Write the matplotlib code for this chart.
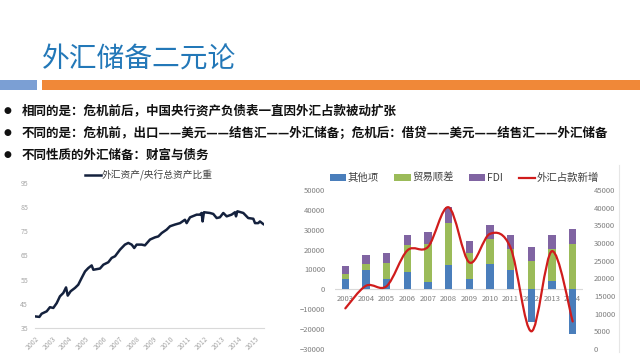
import matplotlib
matplotlib.use('Agg')
import matplotlib.pyplot as plt
from matplotlib.path import Path
from matplotlib.patches import PathPatch, Rectangle
from matplotlib.lines import Line2D
import numpy as np

plt.rcParams['font.family'] = ['Noto Sans CJK SC', 'DejaVu Sans']

# ---------------- data ----------------
title = '外汇储备二元论'
bullets = [
    '相同的是：危机前后，中国央行资产负债表一直因外汇占款被动扩张',
    '不同的是：危机前，出口——美元——结售汇——外汇储备；危机后：借贷——美元——结售汇——外汇储备',
    '不同性质的外汇储备：财富与债务',
]

ratio_label = '外汇资产/央行总资产比重'
ratio_x = [2002.00, 2002.26, 2002.39, 2002.69, 2002.88, 2003.08, 2003.28, 2003.47,
           2003.67, 2003.83, 2003.93, 2004.10, 2004.36, 2004.55, 2004.75, 2004.95,
           2005.14, 2005.34, 2005.44, 2005.83, 2006.03, 2006.32, 2006.52, 2006.72,
           2007.01, 2007.30, 2007.50, 2007.70, 2007.85, 2007.99, 2008.29, 2008.48,
           2008.78, 2009.07, 2009.27, 2009.47, 2009.76, 2009.96, 2010.25, 2010.55,
           2010.84, 2010.94, 2011.14, 2011.53, 2011.72, 2011.82, 2011.88, 2011.96,
           2012.31, 2012.51, 2012.71, 2012.90, 2013.10, 2013.30, 2013.59, 2013.79,
           2013.85, 2013.93, 2014.28, 2014.57, 2014.87, 2014.97, 2015.16, 2015.26,
           2015.46]
ratio_y = [39.8, 39.6, 40.9, 41.9, 43.6, 43.3, 45.3, 48.1,
           49.5, 51.8, 48.4, 50.2, 51.6, 52.9, 55.7, 58.4,
           59.8, 60.9, 59.1, 59.6, 61.2, 62.2, 64.0, 64.7,
           67.4, 69.5, 70.2, 69.5, 68.1, 69.5, 69.5, 69.2,
           71.6, 72.5, 72.9, 74.3, 75.7, 77.1, 77.8, 78.4,
           79.8, 78.4, 80.8, 81.9, 81.9, 82.6, 79.1, 82.9,
           82.6, 82.2, 80.5, 80.8, 82.6, 81.2, 81.9, 82.9,
           81.2, 83.3, 82.6, 80.5, 80.2, 78.4, 78.4, 79.1,
           78.0]
ratio_years = list(range(2002, 2016))
ratio_yticks = [35, 45, 55, 65, 75, 85, 95]

years = ['2003', '2004', '2005', '2006', '2007', '2008', '2009', '2010',
         '2011', '2012', '2013', '2014']
other = [5000, 10000, 5000, 8500, 3500, 12500, 5000, 13000, 10000, -16500, 4000, -22500]
trade = [2500, 3000, 8500, 14000, 19500, 21000, 13500, 12500, 10500, 14500, 16500, 23000]
fdi = [4200, 4500, 5000, 5000, 6000, 8000, 5800, 7000, 7000, 7000, 7000, 7500]
fx_new = [11500, 17900, 17800, 27900, 28900, 40100, 24500, 32600, 28600, 5000, 27700, 7800]
bar_labels = ['其他项', '贸易顺差', 'FDI', '外汇占款新增']
left_ticks = list(range(-30000, 50001, 10000))
right_ticks = list(range(0, 45001, 5000))

# ---------------- figure ----------------
W, H = 640, 360
fig = plt.figure(figsize=(6.4, 3.6), dpi=100)


def rect(l, t, r, b):
    return [l / W, 1 - b / H, (r - l) / W, (b - t) / H]


def fpos(x, y):
    return x / W, 1 - y / H


# header
fig.text(*fpos(42, 60), title, fontsize=20, color='#2378B8', va='center', ha='left')
fig.patches.append(Rectangle(fpos(0, 90), 37 / W, 10 / H, transform=fig.transFigure,
                             facecolor='#7B9FD4', edgecolor='none'))
fig.patches.append(Rectangle(fpos(42, 90), (640 - 42) / W, 10 / H, transform=fig.transFigure,
                             facecolor='#F08838', edgecolor='none'))
for i, (yy, txt) in enumerate(zip([111, 133, 155], bullets)):
    fig.text(*fpos(7, yy), '●', fontsize=6.5, color='#111111', va='center', ha='center',
             family=['DejaVu Sans'])
    fig.text(*fpos(22, yy), txt, fontsize=9, color='#111111', va='center', ha='left',
             fontweight='bold')

# ---------------- left chart ----------------
ax1 = fig.add_axes(rect(35, 183, 264, 328))
ax1.plot(ratio_x, ratio_y, color='#14213D', lw=1.8, label=ratio_label)
ax1.set_xlim(2002, 2015.5)
ax1.set_ylim(35, 95)
ax1.set_yticks(ratio_yticks)
ax1.set_xticks(ratio_years)
ax1.set_xticklabels([str(y) for y in ratio_years], rotation=45, ha='right',
                    rotation_mode='anchor')
for s in ['top', 'right', 'left']:
    ax1.spines[s].set_visible(False)
ax1.spines['bottom'].set_color('#D9D9D9')
ax1.spines['bottom'].set_linewidth(0.8)
ax1.tick_params(length=0, labelsize=5, colors='#A6A6A6', pad=5)
ax1.patch.set_visible(False)
ax1.legend(loc='center left', bbox_to_anchor=fpos(85, 175), bbox_transform=fig.transFigure,
           frameon=False, fontsize=7, handlelength=1.6, handletextpad=0.1,
           borderpad=0, borderaxespad=0, labelcolor='#404040')

# ---------------- right chart ----------------
ax2 = fig.add_axes(rect(335, 190, 583, 349))
xs = np.arange(len(years))
bw = 0.36
pos_other = [max(v, 0) for v in other]
trade_bottom = pos_other
fdi_bottom = [a + b for a, b in zip(pos_other, trade)]
b1 = ax2.bar(xs, other, width=bw, color='#4A7EBB', zorder=2, label=bar_labels[0])
b2 = ax2.bar(xs, trade, width=bw, bottom=trade_bottom, color='#9BBB59', zorder=2,
             label=bar_labels[1])
b3 = ax2.bar(xs, fdi, width=bw, bottom=fdi_bottom, color='#8064A2', zorder=2,
             label=bar_labels[2])
ax2.axhline(0, color='#D9D9D9', lw=0.8, zorder=1)
ax2.set_xlim(-0.5, len(years) - 0.5)
ax2.set_ylim(-30000, 50000)
ax2.set_yticks(left_ticks)
ax2.set_xticks([])
for s in ax2.spines.values():
    s.set_visible(False)
ax2.tick_params(length=0, labelsize=5.5, colors='#7F7F7F', pad=7)
for i, lab in enumerate(years):
    ax2.annotate(lab, xy=(i, 0), xytext=(0, -7), textcoords='offset points',
                 ha='center', va='center', fontsize=5.5, color='#7F7F7F', zorder=1.5)

ax3 = ax2.twinx()
ax3.set_ylim(0, 45000)
ax3.set_yticks(right_ticks)
for s in ax3.spines.values():
    s.set_visible(False)
ax3.tick_params(length=0, labelsize=5.5, colors='#7F7F7F', pad=8)

# smoothed line (Bezier through the data points)
pts = np.column_stack([xs, fx_new]).astype(float)
verts = [tuple(pts[0])]
codes = [Path.MOVETO]
n = len(pts)
for i in range(n - 1):
    p0 = pts[i - 1] if i > 0 else pts[i]
    p1 = pts[i]
    p2 = pts[i + 1]
    p3 = pts[i + 2] if i + 2 < n else pts[i + 1]
    c1 = p1 + (p2 - p0) / 6.0
    c2 = p2 - (p3 - p1) / 6.0
    verts += [tuple(c1), tuple(c2), tuple(p2)]
    codes += [Path.CURVE4] * 3
ax3.add_patch(PathPatch(Path(verts, codes), fill=False, edgecolor='#D01C1C', lw=1.6,
                        zorder=3, capstyle='round', joinstyle='round'))

handles = [b1, b2, b3, Line2D([], [], color='#D01C1C', lw=1.6)]
ax2.legend(handles, bar_labels, loc='center left', bbox_to_anchor=fpos(330, 178),
           bbox_transform=fig.transFigure, ncol=4, frameon=False, fontsize=7.5,
           handlelength=1.55, handleheight=0.6, handletextpad=0.15, columnspacing=1.5,
           borderpad=0, borderaxespad=0, labelcolor='#404040')

# chart frame edge
fig.add_artist(Line2D([619 / W, 619 / W], [fpos(0, 165)[1], fpos(0, 352)[1]],
                      transform=fig.transFigure, color='#E6E6E6', lw=0.8))

fig.savefig('out.png', dpi=100, facecolor='white')
